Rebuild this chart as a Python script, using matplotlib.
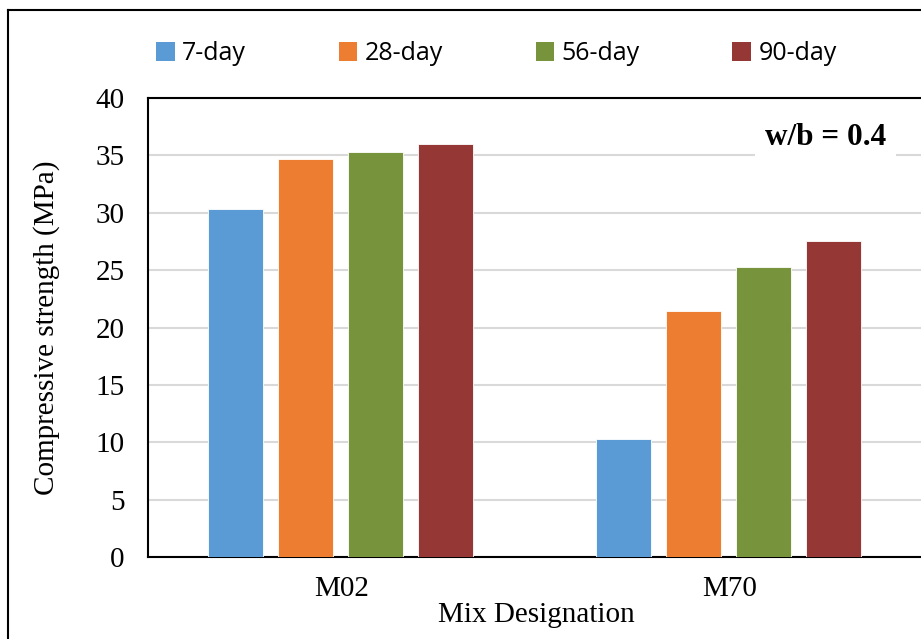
import numpy as np
import matplotlib
matplotlib.use('Agg')
import matplotlib.pyplot as plt
from matplotlib.patches import Patch
from matplotlib.lines import Line2D

# data
mixes = ['M02', 'M70']
ages = ['7-day', '28-day', '56-day', '90-day']
day7 = [30.3, 10.3]
day28 = [34.7, 21.4]
day56 = [35.3, 25.3]
day90 = [36.0, 27.5]
colors = ['#5B9BD5', '#ED7D31', '#77933C', '#953735']

series = [day7, day28, day56, day90]

fig = plt.figure(figsize=(9.21, 6.39), dpi=100)
ax = fig.add_axes([148/921, 82/639, 776/921, 459/639])

x = np.arange(len(mixes)) + 0.5
w = 0.142
step = 0.181
for i, vals in enumerate(series):
    ax.bar(x + (i - 1.5) * step - 0.004, vals, width=w, color=colors[i],
           edgecolor='white', linewidth=0.6, zorder=3, label=ages[i])

ax.set_xlim(0, 2)
ax.set_ylim(0, 40)
ax.set_yticks(range(0, 41, 5))
ax.set_xticks(x)
ax.set_xticklabels(mixes)
ax.yaxis.grid(True, color='#d9d9d9', linewidth=1.5, zorder=0)
ax.tick_params(length=0, labelsize=21)
ax.tick_params(axis='y', pad=17)
ax.tick_params(axis='x', pad=14)
for lab in ax.get_xticklabels() + ax.get_yticklabels():
    lab.set_fontfamily('Liberation Serif')
for s in ['left', 'top', 'bottom']:
    ax.spines[s].set_linewidth(1.5)
ax.spines['right'].set_visible(False)

ax.set_xlabel('Mix Designation', fontsize=21, family='Liberation Serif', labelpad=0)
ax.set_ylabel('Compressive strength (MPa)', fontsize=21, family='Liberation Serif', labelpad=25)

ax.text(0.873, 0.913, 'w/b = 0.4', transform=ax.transAxes, ha='center', va='center',
        fontsize=22.5, fontweight='bold', family='Liberation Serif', zorder=5,
        bbox=dict(facecolor='white', edgecolor='none', pad=7))

handles = [Patch(facecolor=c) for c in colors]
fig.legend(handles, ages, loc='center', bbox_to_anchor=(0.539, 0.916), ncol=4,
           frameon=False, prop={'family': 'Open Sans', 'size': 18},
           handlelength=0.75, handleheight=0.75, handletextpad=0.3, columnspacing=3.7)

# outer frame (partially visible)
fig.add_artist(Line2D([8/921, 8/921], [0, 1 - 10/639], transform=fig.transFigure,
                      color='black', linewidth=1.5))
fig.add_artist(Line2D([8/921, 1], [1 - 10/639, 1 - 10/639], transform=fig.transFigure,
                      color='black', linewidth=1.5))

fig.savefig('out.png', dpi=100)
